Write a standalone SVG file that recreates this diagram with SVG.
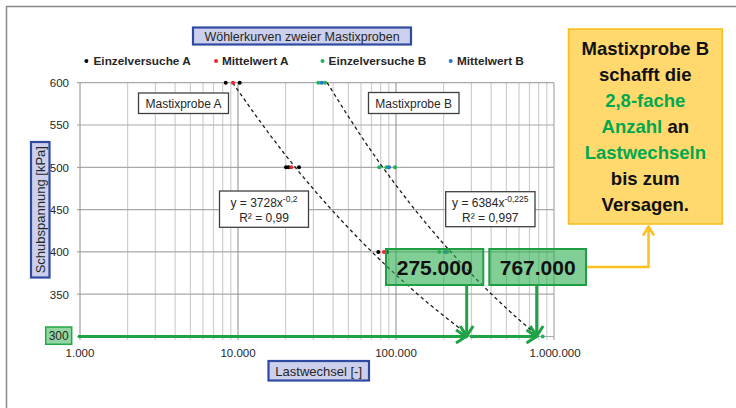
<svg xmlns="http://www.w3.org/2000/svg" width="736" height="408" viewBox="0 0 736 408">
<defs>
<style>
text{font-family:"Liberation Sans",Arial,sans-serif;fill:#262626}
.minor{stroke:#cfcfcf;stroke-width:1.2}
.major{stroke:#8c8c8c;stroke-width:1}
.hg{stroke:#a9a9a9;stroke-width:1.2}
.tick{font-size:11.5px;text-anchor:end}
.xt{font-size:11.5px;text-anchor:middle}
.leg{font-size:11.8px;font-weight:bold}
.lbl{fill:#fff;stroke:#404040;stroke-width:1.3}
.lt{font-size:12px;text-anchor:middle}
.ax{fill:#ccd0ec;stroke:#2f4aa0;stroke-width:2.2}
.trend{fill:none;stroke:#1a1a1a;stroke-width:1.3;stroke-dasharray:3.5 3}
.big{fill:#2fae52;fill-opacity:0.6;stroke:#1f9e43;stroke-width:2}
.bigt{font-size:21px;font-weight:bold;text-anchor:middle;fill:#111}
.garrow{fill:none;stroke:#1fa347;stroke-width:3}
.yt{font-size:18.5px;font-weight:bold;text-anchor:middle;fill:#111}
.gr{fill:#00a84f}
</style>
<marker id="ga" markerWidth="14" markerHeight="16" refX="11" refY="8" orient="auto" markerUnits="userSpaceOnUse"><path d="M1,1.5 L11,8 L1,14.5" fill="none" stroke="#1fa347" stroke-width="3"/></marker>
<marker id="ya" markerWidth="12" markerHeight="14" refX="10" refY="7" orient="auto" markerUnits="userSpaceOnUse"><path d="M1,1.5 L10,7 L1,12.5" fill="none" stroke="#ffbf1f" stroke-width="2.5"/></marker>
</defs>
<rect width="736" height="408" fill="#fff"/>
<path d="M6.5,408 V6.5 H736" fill="none" stroke="#8a8a8a" stroke-width="1.5"/>

<g id="grid">
<g class="minor">
<line x1="127.6" y1="83" x2="127.6" y2="340"/><line x1="155.4" y1="83" x2="155.4" y2="340"/><line x1="175.1" y1="83" x2="175.1" y2="340"/><line x1="190.4" y1="83" x2="190.4" y2="340"/><line x1="203" y1="83" x2="203" y2="340"/><line x1="213.5" y1="83" x2="213.5" y2="340"/><line x1="222.7" y1="83" x2="222.7" y2="340"/><line x1="230.8" y1="83" x2="230.8" y2="340"/>
<line x1="285.6" y1="83" x2="285.6" y2="340"/><line x1="313.4" y1="83" x2="313.4" y2="340"/><line x1="333.1" y1="83" x2="333.1" y2="340"/><line x1="348.4" y1="83" x2="348.4" y2="340"/><line x1="361" y1="83" x2="361" y2="340"/><line x1="371.5" y1="83" x2="371.5" y2="340"/><line x1="380.7" y1="83" x2="380.7" y2="340"/><line x1="388.8" y1="83" x2="388.8" y2="340"/>
<line x1="443.6" y1="83" x2="443.6" y2="340"/><line x1="471.4" y1="83" x2="471.4" y2="340"/><line x1="491.1" y1="83" x2="491.1" y2="340"/><line x1="506.4" y1="83" x2="506.4" y2="340"/><line x1="519" y1="83" x2="519" y2="340"/><line x1="529.5" y1="83" x2="529.5" y2="340"/><line x1="538.7" y1="83" x2="538.7" y2="340"/><line x1="546.8" y1="83" x2="546.8" y2="340"/>
</g>
<g class="hg">
<line x1="77" y1="82.7" x2="554" y2="82.7"/><line x1="77" y1="125" x2="554" y2="125"/><line x1="77" y1="167.3" x2="554" y2="167.3"/><line x1="77" y1="209.6" x2="554" y2="209.6"/><line x1="77" y1="251.9" x2="554" y2="251.9"/><line x1="77" y1="294.2" x2="554" y2="294.2"/><line x1="77" y1="336.5" x2="554" y2="336.5"/>
<line x1="554" y1="82.7" x2="554" y2="340"/>
</g>
<g class="major">
<line x1="238" y1="83" x2="238" y2="340"/><line x1="396" y1="83" x2="396" y2="340"/>
<line x1="80" y1="82.7" x2="80" y2="340"/>
</g>
</g>

<g id="axis-labels">
<text class="tick" x="69" y="87">600</text>
<text class="tick" x="69" y="129.3">550</text>
<text class="tick" x="69" y="171.6">500</text>
<text class="tick" x="69" y="213.9">450</text>
<text class="tick" x="69" y="256.2">400</text>
<text class="tick" x="69" y="298.5">350</text>
<text class="xt" x="80" y="356.5">1.000</text>
<text class="xt" x="238" y="356.5">10.000</text>
<text class="xt" x="396" y="356.5">100.000</text>
<text class="xt" x="555" y="356.5">1.000.000</text>
</g>

<g id="title">
<rect class="ax" x="193" y="27.5" width="218" height="17"/>
<text x="302" y="40.5" text-anchor="middle" style="font-size:12.5px">Wöhlerkurven zweier Mastixproben</text>
</g>

<g id="legend">
<circle cx="86.4" cy="61" r="2" fill="#000"/>
<text class="leg" x="93.5" y="65.2">Einzelversuche A</text>
<circle cx="216" cy="61" r="2" fill="#e8262d"/>
<text class="leg" x="222" y="65.2">Mittelwert A</text>
<circle cx="322.5" cy="61" r="2" fill="#1db45a"/>
<text class="leg" x="328.6" y="65.2">Einzelversuche B</text>
<circle cx="450.7" cy="61" r="2" fill="#1f78c8"/>
<text class="leg" x="457" y="65.2">Mittelwert B</text>
</g>

<g id="y-title">
<rect class="ax" x="31" y="142" width="18.5" height="135.5"/>
<text x="0" y="0" text-anchor="middle" transform="translate(44.5,209.7) rotate(-90)" style="font-size:13px">Schubspannung [kPa]</text>
</g>

<g id="x-title">
<rect class="ax" x="268.5" y="361" width="100.5" height="19.5"/>
<text x="318.7" y="375.5" text-anchor="middle" style="font-size:13px">Lastwechsel [-]</text>
</g>

<g id="label-300">
<rect x="45.7" y="327" width="26" height="17.3" fill="#93d6a2" stroke="#22a847" stroke-width="1.5"/>
<text x="58.7" y="340" text-anchor="middle" style="font-size:12px">300</text>
</g>

<g id="trendlines">
<polyline class="trend" points="232.6,82.7 238,90.4 253.8,112.8 269.6,134.4 285.4,155 301.2,174.6 317,193.3 332.8,211.1 348.6,228.2 364.4,244.5 380.2,260 396,274.9 411.8,289.1 427.6,302.7 443.4,315.6 459.2,328 470.5,336.5"/>
<polyline class="trend" points="327.1,82.7 345.8,112.6 364.4,141.1 380.2,163.8 396,185.3 411.8,205.8 427.6,225.2 443.4,243.7 459.2,261.1 475,277.8 490.8,293.5 506.6,308.5 522.4,322.7 538.5,336.5"/>
</g>

<g id="data-points">
<circle cx="225.7" cy="82.7" r="2" fill="#000"/><circle cx="239.7" cy="82.7" r="2" fill="#000"/><circle cx="233" cy="82.7" r="2" fill="#e8262d"/>
<circle cx="286" cy="167.3" r="2" fill="#000"/><circle cx="288.5" cy="167.3" r="2" fill="#000"/><circle cx="299" cy="167.3" r="2" fill="#000"/><circle cx="291.3" cy="167.3" r="2" fill="#e8262d"/>
<circle cx="378.3" cy="251.9" r="2" fill="#000"/><circle cx="387" cy="251.9" r="2" fill="#000"/><circle cx="384" cy="251.9" r="2" fill="#e8262d"/>
<circle cx="473" cy="336.5" r="1.8" fill="#000"/>
<circle cx="318.3" cy="82.7" r="2" fill="#1db45a"/><circle cx="325" cy="82.7" r="2" fill="#1db45a"/><circle cx="321.7" cy="82.7" r="2" fill="#1f78c8"/>
<circle cx="379.3" cy="167.3" r="2" fill="#1db45a"/><circle cx="395" cy="167.3" r="2" fill="#1db45a"/><circle cx="386.5" cy="167.3" r="2" fill="#1db45a"/><circle cx="389" cy="167.3" r="2" fill="#1f78c8"/>
<circle cx="439.3" cy="251.9" r="2" fill="#1db45a"/><circle cx="447.3" cy="251.9" r="2" fill="#1db45a"/><circle cx="445" cy="251.9" r="2" fill="#1f78c8"/>
<circle cx="542.7" cy="336.5" r="2" fill="#1db45a"/>
</g>

<g id="label-mastix-a">
<rect class="lbl" x="138.5" y="93" width="90" height="20.5"/>
<text class="lt" x="183.5" y="107.8">Mastixprobe A</text>
</g>
<g id="label-mastix-b">
<rect class="lbl" x="368.5" y="92.5" width="90.5" height="21"/>
<text class="lt" x="413.7" y="107.5">Mastixprobe B</text>
</g>

<g id="eq-a">
<rect class="lbl" x="219.5" y="191" width="89" height="36.3"/>
<text class="lt" x="264" y="206.5">y = 3728x<tspan dy="-5" style="font-size:8.5px">-0,2</tspan></text>
<text class="lt" x="264" y="221.5">R² = 0,99</text>
</g>
<g id="eq-b">
<rect class="lbl" x="445.7" y="191.7" width="89.3" height="35"/>
<text class="lt" x="490.3" y="207">y = 6384x<tspan dy="-5" style="font-size:8.5px">-0,225</tspan></text>
<text class="lt" x="490.3" y="221.5">R² = 0,997</text>
</g>

<g id="connectors">
<line class="garrow" x1="78" y1="336.5" x2="466" y2="336.5" marker-end="url(#ga)"/>
<line class="garrow" x1="470" y1="336.5" x2="536.5" y2="336.5" marker-end="url(#ga)"/>
<line class="garrow" x1="466.7" y1="285" x2="466.7" y2="336" marker-end="url(#ga)"/>
<line class="garrow" x1="536.7" y1="285" x2="536.7" y2="336" marker-end="url(#ga)"/>
<polyline points="586,267 648.5,267 648.5,226.5" fill="none" stroke="#ffbf1f" stroke-width="2.5" marker-end="url(#ya)"/>
</g>

<g id="box-275000">
<rect class="big" x="386" y="249" width="97.3" height="36"/>
<text class="bigt" x="434.7" y="274.8">275.000</text>
</g>
<g id="box-767000">
<rect class="big" x="489.3" y="249" width="96.7" height="36"/>
<text class="bigt" x="537.7" y="274.8">767.000</text>
</g>

<g id="note">
<rect x="568.5" y="29" width="153.8" height="195" fill="#ffd86e" stroke="#f8bd1c" stroke-width="1.5"/>
<text class="yt" x="645.3" y="54.5">Mastixprobe B</text>
<text class="yt" x="645.3" y="80.5">schafft die</text>
<text class="yt gr" x="645.3" y="106.5">2,8-fache</text>
<text class="yt" x="645.3" y="132.5"><tspan class="gr">Anzahl</tspan> an</text>
<text class="yt gr" x="645.3" y="158.5">Lastwechseln</text>
<text class="yt" x="645.3" y="184.5">bis zum</text>
<text class="yt" x="645.3" y="210.5">Versagen.</text>
</g>
</svg>
